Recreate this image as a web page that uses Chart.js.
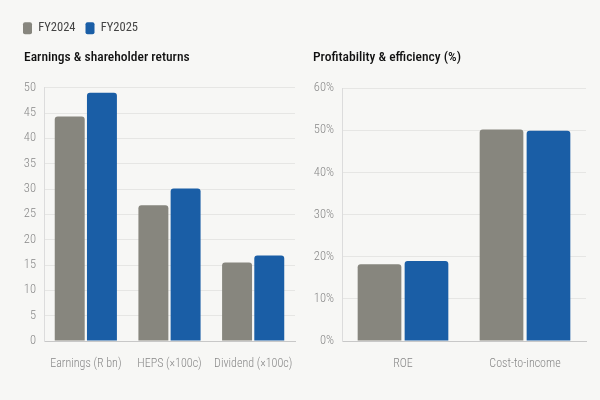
<!DOCTYPE html>
<html>
<head>
<meta charset="utf-8">
<script src="https://cdn.jsdelivr.net/npm/chart.js@4.4.1/dist/chart.umd.min.js"></script>
<style>
  html, body { margin: 0; padding: 0; background: #f7f7f5; }
  #wrap { position: relative; width: 600px; height: 400px; background: #f7f7f5; }
  .c { position: absolute; top: 0; height: 400px; }
  #c1 { left: 0; width: 300px; }
  #c2 { left: 300px; width: 300px; }
</style>
</head>
<body>
<div id="wrap">
  <div class="c" id="c1"><canvas id="left" width="300" height="400"></canvas></div>
  <div class="c" id="c2"><canvas id="right" width="300" height="400"></canvas></div>
</div>
<script>
const seriesNames = ['FY2024', 'FY2025'];
const leftCategories = ['Earnings (R bn)', 'HEPS (×100c)', 'Dividend (×100c)'];
const leftFY2024 = [44.3, 26.8, 15.5];
const leftFY2025 = [49.0, 30.1, 16.9];
const rightCategories = ['ROE', 'Cost-to-income'];
const rightFY2024 = [18.2, 50.2];
const rightFY2025 = [19.0, 49.9];
const leftTicks = [0, 5, 10, 15, 20, 25, 30, 35, 40, 45, 50];
const rightTicks = [0, 10, 20, 30, 40, 50, 60];

const GREY = '#87867e';
const BLUE = '#1a5ea6';
const FONT = "'Roboto Condensed', 'Liberation Sans', sans-serif";

function ds(label, data, color) {
  return {
    label, data, backgroundColor: color, borderColor: color,
    borderWidth: 0, borderRadius: { topLeft: 3, topRight: 3 }, borderSkipped: 'bottom',
    categoryPercentage: 0.77, barPercentage: 0.93
  };
}

// shift the legend so its first swatch sits at x = 23 like the reference
const legendShift = {
  id: 'legendShift',
  afterLayout(chart) {
    if (chart.legend && chart.options.plugins.legend.display) {
      const w = chart.legend.right - chart.legend.left;
      chart.legend.left = 13;
      chart.legend.right = 13 + w;
    }
  }
};

function makeOpts(opts) {
  return {
    responsive: false, animation: false,
    layout: { padding: { left: opts.padLeft, right: opts.padRight, top: opts.padTop, bottom: 0 } },
    plugins: {
      legend: opts.legend ? {
        display: true, position: 'top', align: 'start', weight: 3000,
        labels: {
          boxWidth: 9, boxHeight: 12, useBorderRadius: true, borderRadius: 2,
          color: '#444', font: { family: FONT, size: 12.5 }, padding: 10
        }
      } : { display: false },
      title: {
        display: true, text: opts.title, align: 'start', color: '#111',
        font: { family: FONT, size: 13.5, weight: '500' },
        padding: { top: opts.titleTop, bottom: opts.titleBottom }
      },
      tooltip: { enabled: false }
    },
    scales: {
      x: {
        grid: { display: false, drawTicks: false },
        border: { color: '#c8c8c8' },
        ticks: { color: '#888', font: { family: FONT, size: 12, weight: '300' }, padding: 16, maxRotation: 0, minRotation: 0, autoSkip: false },
        afterFit: s => { s.height = 59; s.paddingLeft = 0; s.paddingRight = 0; }
      },
      y: {
        min: 0, max: opts.max,
        afterBuildTicks: s => { s.ticks = opts.ticks.map(v => ({ value: v })); },
        grid: { color: '#e6e6e4', drawTicks: false },
        border: { color: '#dcdcdc' },
        ticks: { color: '#888', font: { family: FONT, size: 12.5, weight: '300' }, padding: 8, callback: opts.fmt },
        afterFit: s => { s.width = opts.yWidth; }
      }
    }
  };
}

new Chart(document.getElementById('left'), {
  type: 'bar',
  data: { labels: leftCategories, datasets: [ds(seriesNames[0], leftFY2024, GREY), ds(seriesNames[1], leftFY2025, BLUE)] },
  options: makeOpts({ legend: true, title: 'Earnings & shareholder returns', padLeft: 24, padRight: 5, padTop: 12,
    titleTop: 5, titleBottom: 22, max: 50, ticks: leftTicks, fmt: v => v, yWidth: 20 }),
  plugins: [legendShift]
});

new Chart(document.getElementById('right'), {
  type: 'bar',
  data: { labels: rightCategories, datasets: [ds(seriesNames[0], rightFY2024, GREY), ds(seriesNames[1], rightFY2025, BLUE)] },
  options: makeOpts({ legend: false, title: 'Profitability & efficiency (%)', padLeft: 13, padRight: 14, padTop: 8,
    titleTop: 42, titleBottom: 22, max: 60, ticks: rightTicks, fmt: v => v + '%', yWidth: 29 })
});
</script>
</body>
</html>
